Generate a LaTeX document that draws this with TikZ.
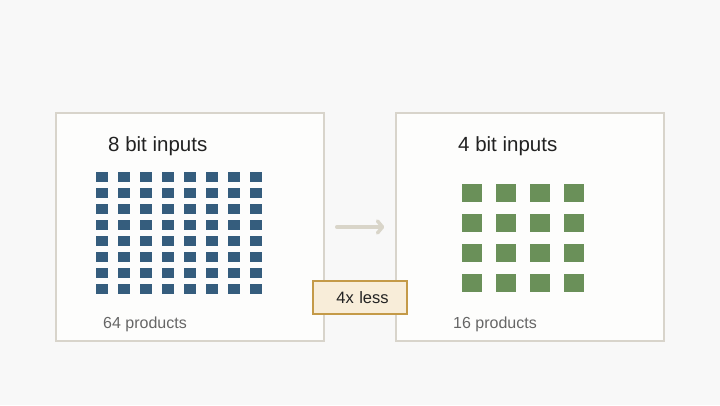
\documentclass[tikz,border=0pt]{standalone}
\usepackage{fontspec}
\setmainfont{Liberation Sans}
\usetikzlibrary{arrows.meta}

\definecolor{bgcol}{HTML}{F8F8F8}
\definecolor{panelfill}{HTML}{FDFDFC}
\definecolor{panelline}{HTML}{D8D4CB}
\definecolor{bluesq}{HTML}{355D7D}
\definecolor{greensq}{HTML}{6A9059}
\definecolor{arrowcol}{HTML}{D9D5C9}
\definecolor{tagfill}{HTML}{F8EDD9}
\definecolor{tagline}{HTML}{C49A48}
\definecolor{titletext}{HTML}{222222}
\definecolor{subtext}{HTML}{666666}

\tikzset{
  panel/.style={draw=panelline, fill=panelfill, line width=1.5pt,
    minimum width=268pt, minimum height=228pt, inner sep=0pt},
  title/.style={anchor=base west, text=titletext, inner sep=0pt,
    font=\fontsize{20.5}{24}\selectfont},
  count/.style={anchor=base west, text=subtext, inner sep=0pt,
    font=\fontsize{16}{19}\selectfont},
  tag/.style={draw=tagline, fill=tagfill, line width=1.5pt,
    minimum width=94pt, minimum height=33pt, inner sep=0pt,
    text=titletext, font=\fontsize{16.5}{19}\selectfont},
}

\begin{document}
\begin{tikzpicture}[x=1pt, y=-1pt]
    % --- canvas ---
    \useasboundingbox (0,0) rectangle (720,405);
    \fill[bgcol] (0,0) rectangle (720,405);

    % --- panels ---
    \node[panel] (lbox) at (190,227) {};
    \node[panel] (rbox) at (530,227) {};

    % --- titles and counts ---
    \node[title] (ltitle) at (108,151) {8 bit inputs};
    \node[title] (rtitle) at (458,151) {4 bit inputs};
    \node[count] (lcount) at (103,328) {64 products};
    \node[count] (rcount) at (453,328) {16 products};

    % --- 8 x 8 grid (blue) ---
    \foreach \i in {0,...,7}
      \foreach \j in {0,...,7}
        \fill[bluesq] (96+22*\i, 172+16*\j) rectangle ++(12,10);

    % --- 4 x 4 grid (green) ---
    \foreach \i in {0,...,3}
      \foreach \j in {0,...,3}
        \fill[greensq] (462+34*\i, 184+30*\j) rectangle ++(20,18);

    % --- arrow between panels ---
    \draw[arrowcol, line width=3.5pt, line cap=round,
          -{Straight Barb[length=5pt, width=12pt, line cap=round, line join=round]},
          shorten <=12pt, shorten >=11pt] (lbox) -- (rbox);

    % --- reduction tag ---
    \node[tag, text width=94pt, align=center] (gain) at (360,297.5) {\hspace*{5pt}4x less};
\end{tikzpicture}
\end{document}
